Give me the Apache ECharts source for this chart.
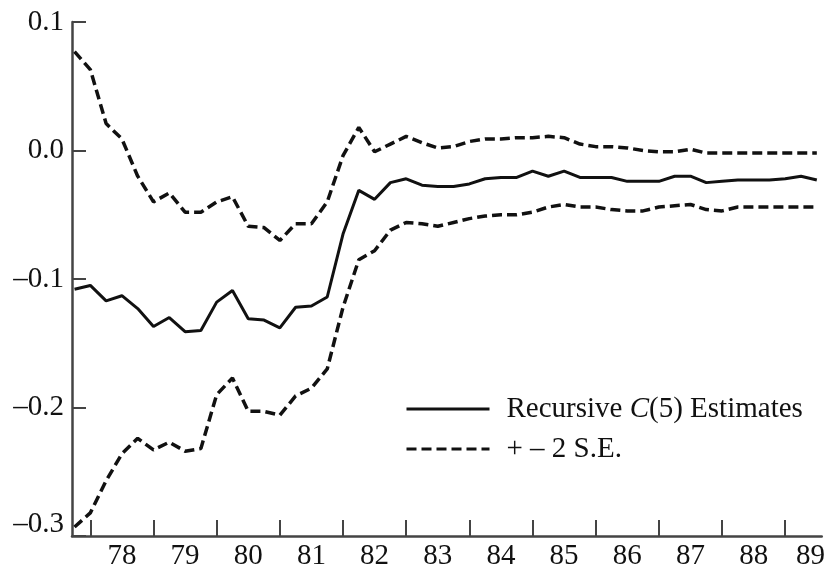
<!DOCTYPE html>
<html><head><meta charset="utf-8">
<script src="https://cdn.jsdelivr.net/npm/echarts@6/dist/echarts.min.js"></script>
<style>html,body{margin:0;padding:0;background:#fff}#c{width:828px;height:571px}</style>
</head><body><div id="c"></div>
<script>
const quarters = [
  '1977Q4',
  '1978Q1','1978Q2','1978Q3','1978Q4',
  '1979Q1','1979Q2','1979Q3','1979Q4',
  '1980Q1','1980Q2','1980Q3','1980Q4',
  '1981Q1','1981Q2','1981Q3','1981Q4',
  '1982Q1','1982Q2','1982Q3','1982Q4',
  '1983Q1','1983Q2','1983Q3','1983Q4',
  '1984Q1','1984Q2','1984Q3','1984Q4',
  '1985Q1','1985Q2','1985Q3','1985Q4',
  '1986Q1','1986Q2','1986Q3','1986Q4',
  '1987Q1','1987Q2','1987Q3','1987Q4',
  '1988Q1','1988Q2','1988Q3','1988Q4',
  '1989Q1','1989Q2','1989Q3'
];
const estimates = [
  -0.108,
  -0.105,-0.117,-0.113,-0.123,
  -0.137,-0.130,-0.141,-0.140,
  -0.118,-0.109,-0.131,-0.132,
  -0.138,-0.122,-0.121,-0.114,
  -0.065,-0.031,-0.038,-0.025,
  -0.022,-0.027,-0.028,-0.028,
  -0.026,-0.022,-0.021,-0.021,
  -0.016,-0.020,-0.016,-0.021,
  -0.021,-0.021,-0.024,-0.024,
  -0.024,-0.020,-0.020,-0.025,
  -0.024,-0.023,-0.023,-0.023,
  -0.022,-0.020,-0.023
];
const upperBand = [
  0.077,
  0.063,0.021,0.009,-0.020,
  -0.040,-0.033,-0.048,-0.048,
  -0.040,-0.036,-0.059,-0.060,
  -0.070,-0.057,-0.057,-0.040,
  -0.004,0.018,-0.001,0.005,
  0.011,0.006,0.002,0.003,
  0.007,0.009,0.009,0.010,
  0.010,0.011,0.010,0.005,
  0.003,0.003,0.002,0.000,
  -0.001,-0.001,0.001,-0.002,
  -0.002,-0.002,-0.002,-0.002,
  -0.002,-0.002,-0.002
];
const lowerBand = [
  -0.293,
  -0.282,-0.257,-0.236,-0.224,
  -0.233,-0.227,-0.234,-0.232,
  -0.190,-0.177,-0.203,-0.203,
  -0.206,-0.191,-0.185,-0.170,
  -0.122,-0.085,-0.078,-0.062,
  -0.056,-0.057,-0.059,-0.056,
  -0.053,-0.051,-0.050,-0.050,
  -0.048,-0.044,-0.042,-0.044,
  -0.044,-0.046,-0.047,-0.047,
  -0.044,-0.043,-0.042,-0.046,
  -0.047,-0.044,-0.044,-0.044,
  -0.044,-0.044,-0.044
];
const yTickValues = [-0.3, -0.2, -0.1, 0.0, 0.1];
const xTickYears = [1978,1979,1980,1981,1982,1983,1984,1985,1986,1987,1988,1989];
const xTickLabels = ['78','79','80','81','82','83','84','85','86','87','88','89'];
const seriesNames = ['Recursive C(5) Estimates', '+ \u2013 2 S.E.'];

const X_MIN = 1977.71, X_MAX = 1989.578;
const FONT = "'Liberation Serif','Times New Roman',serif";
const INK = '#111';
const AXIS = '#444';

function toX(q){ const y = +q.slice(0,4), n = +q.slice(5); return y + (n-1)/4; }
const pts = arr => quarters.map((q,i)=>[toX(q), arr[i]]);

const labelPos = xTickYears.map(y => Math.min(y + 0.5, 1989.4));
const labelMap = {};
labelPos.forEach((p,i)=>{ labelMap[p.toFixed(2)] = xTickLabels[i]; });

const chart = echarts.init(document.getElementById('c'), null, {renderer:'canvas'});
chart.setOption({
  animation: false,
  backgroundColor: '#fff',
  grid: { left: 72, right: 0, top: 22, bottom: 33 },
  xAxis: {
    type: 'value', min: X_MIN, max: X_MAX,
    axisLine: { show: true, onZero: false, lineStyle: { color: AXIS, width: 2.5 } },
    axisTick: { show: true, inside: true, length: 16, customValues: xTickYears, lineStyle: { color: AXIS, width: 2 } },
    axisLabel: { show: true, customValues: labelPos, margin: 6, fontSize: 29, fontFamily: FONT, color: INK,
      formatter: v => labelMap[(+v).toFixed(2)] || '' },
    splitLine: { show: false }
  },
  yAxis: {
    type: 'value', min: -0.3, max: 0.1, interval: 0.1,
    axisLine: { show: true, onZero: false, lineStyle: { color: AXIS, width: 2.5 } },
    axisTick: { show: true, inside: true, length: 14, lineStyle: { color: AXIS, width: 2 } },
    axisLabel: { show: true, margin: 8, fontSize: 29, fontFamily: FONT, color: INK,
      formatter: v => {
        const r = Math.round(v*10)/10;
        const s = (r < 0 ? '\u2013' : '') + Math.abs(r).toFixed(1);
        return Math.abs(r - yTickValues[0]) < 1e-9 ? '{low|' + s + '}' : s;
      },
      rich: { low: { fontSize: 29, fontFamily: FONT, color: INK, padding: [0,0,24,0] } }
    },
    splitLine: { show: false }
  },
  legend: {
    data: seriesNames,
    orient: 'vertical', left: 405, top: 394, padding: 0,
    itemWidth: 83, itemHeight: 14, itemGap: 10,
    itemStyle: { opacity: 0 },
    lineStyle: { width: 3 },
    textStyle: { fontSize: 29, fontFamily: FONT, color: INK, lineHeight: 30, padding: [0,0,0,12],
      rich: { i: { fontStyle: 'italic', fontSize: 29, fontFamily: FONT, color: INK } } },
    formatter: name => name.replace('C(5)', '{i|C}(5)')
  },
  series: [
    { name: seriesNames[0], type: 'line', data: pts(estimates), symbol: 'none',
      lineStyle: { color: INK, width: 3 }, itemStyle: { color: INK } },
    { name: seriesNames[1], type: 'line', data: pts(upperBand), symbol: 'none',
      lineStyle: { color: INK, width: 3.5, type: [10,5] }, itemStyle: { color: INK } },
    { name: seriesNames[1], type: 'line', data: pts(lowerBand), symbol: 'none',
      lineStyle: { color: INK, width: 3.5, type: [10,5] }, itemStyle: { color: INK } }
  ]
});
</script>
</body></html>
